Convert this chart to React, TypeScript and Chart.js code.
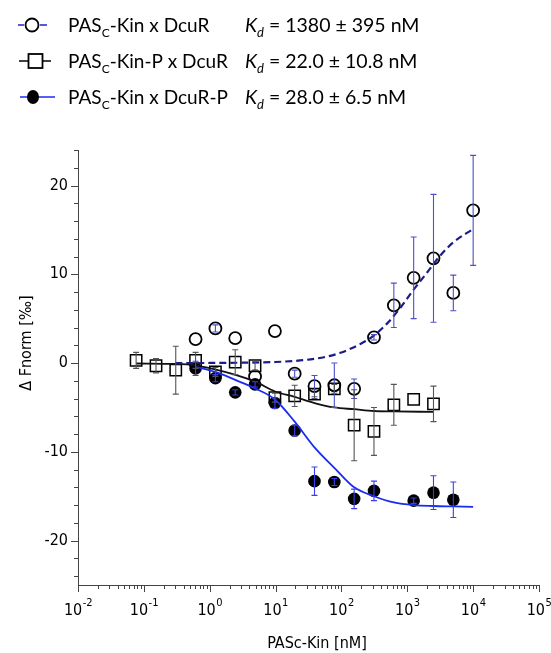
import React, { useEffect, useRef } from "react";
import { Chart, registerables } from "chart.js";
Chart.register(...registerables);

// ---- data ----
// PASc-Kin x DcuR (open circles)
const openX = [0.61, 1.22, 2.44, 4.88, 9.77, 19.5, 39, 78, 156, 312, 625, 1250, 2500, 5000, 10000];
const openY = [2.7, 3.9, 2.8, -1.5, 3.6, -1.2, -2.6, -2.5, -2.9, 2.9, 6.5, 9.6, 11.8, 7.9, 17.2];
const openErr = [0, 0.4, 0, 0, 0, 0.4, 1.2, 2.5, 1.1, 0.3, 2.5, 4.6, 7.2, 2.0, 6.2];

// PASc-Kin-P x DcuR (open squares)
const sqX = [0.0763, 0.153, 0.305, 0.61, 1.22, 2.44, 4.88, 9.77, 19.5, 39, 78, 156, 312, 625, 1250, 2500];
const sqY = [0.3, -0.3, -0.8, 0.3, -1.0, 0.1, -0.3, -3.9, -3.7, -3.5, -2.9, -7.0, -7.7, -4.7, -4.1, -4.6];
const sqErr = [0.9, 0.8, 2.7, 0.9, 0.5, 1.4, 0.5, 0.5, 1.2, 0.5, 0.5, 4.0, 2.7, 2.3, 0, 2.0];

// PASc-Kin x DcuR-P (filled circles)
const fillX = [0.61, 1.22, 2.44, 4.88, 9.77, 19.5, 39, 78, 156, 312, 1250, 2500, 5000];
const fillY = [-0.6, -1.7, -3.3, -2.4, -4.5, -7.6, -13.3, -13.4, -15.3, -14.4, -15.5, -14.6, -15.4];
const fillErr = [0.8, 0.4, 0.3, 0.3, 0.6, 0.6, 1.6, 0.4, 1.1, 1.1, 0.3, 1.9, 2.0];

// fitted curves
const fitOpenX = [0.3, 1, 3, 10, 30, 60, 100, 200, 300, 500, 800, 1200, 2000, 3000, 5000, 10000];
const fitOpenY = [0, 0.01, 0.04, 0.12, 0.37, 0.73, 1.2, 2.2, 3.0, 4.5, 6.3, 8.1, 10.2, 11.9, 13.6, 15.1];
const fitSqX = [0.0763, 0.3, 0.6, 1.2, 2.4, 4.9, 9.8, 19.5, 39, 78, 156, 312, 625, 2500];
const fitSqY = [-0.05, -0.1, -0.25, -0.7, -1.3, -2.1, -3.2, -3.8, -4.5, -5.0, -5.2, -5.4, -5.45, -5.5];
const fitFillX = [0.61, 1.22, 2.44, 4.88, 9.77, 19.5, 39, 78, 156, 312, 625, 1250, 2500, 5000, 10000];
const fitFillY = [-0.4, -1.0, -1.9, -2.85, -4.1, -6.6, -9.5, -11.8, -14.0, -15.0, -15.7, -16.0, -16.1, -16.15, -16.2];

const yMajor = [-20, -10, 0, 10, 20];
const xExponents = [-2, -1, 0, 1, 2, 3, 4, 5];

const pts = (xs: number[], ys: number[]) => xs.map((x, i) => ({ x, y: ys[i] }));

const TICK_FONT = '"DejaVu Sans Condensed", "Liberation Sans", sans-serif';
const LEG_FONT = 'Lato, "Open Sans", sans-serif';

type Seg = { t: string; italic?: boolean; sub?: boolean };
function drawRich(ctx: CanvasRenderingContext2D, x: number, y: number, segs: Seg[], size: number) {
  let cx = x;
  for (const s of segs) {
    const fs = s.sub ? Math.round(size * 0.65) : size;
    ctx.font = `${s.italic ? "italic " : ""}${fs}px ${LEG_FONT}`;
    ctx.fillText(s.t, cx, s.sub ? y + 5 : y);
    cx += ctx.measureText(s.t).width;
  }
}

const decorPlugin = {
  id: "decor",
  afterDatasetsDraw(chart: any) {
    // error bars
    const ctx = chart.ctx as CanvasRenderingContext2D;
    const xs = chart.scales.x, ys = chart.scales.y;
    chart.data.datasets.forEach((ds: any) => {
      if (!ds.errors) return;
      ctx.save();
      ctx.strokeStyle = ds.errColor;
      ctx.lineWidth = 1.1;
      ds.data.forEach((p: any, i: number) => {
        const e = ds.errors[i];
        if (!e) return;
        const px = xs.getPixelForValue(p.x);
        const y1 = ys.getPixelForValue(p.y + e);
        const y2 = ys.getPixelForValue(p.y - e);
        ctx.beginPath();
        ctx.moveTo(px, y1); ctx.lineTo(px, y2);
        ctx.moveTo(px - 3, y1); ctx.lineTo(px + 3, y1);
        ctx.moveTo(px - 3, y2); ctx.lineTo(px + 3, y2);
        ctx.stroke();
      });
      ctx.restore();
    });
  },
  afterDraw(chart: any) {
    const ctx = chart.ctx as CanvasRenderingContext2D;
    const xs = chart.scales.x, ys = chart.scales.y;
    const { left, bottom } = chart.chartArea;
    ctx.save();
    ctx.strokeStyle = "#444";
    ctx.lineWidth = 1;
    // y ticks
    for (let v = -24; v <= 24; v += 2) {
      const py = Math.round(ys.getPixelForValue(v)) + 0.5;
      const len = v % 10 === 0 ? 7 : 4;
      ctx.beginPath(); ctx.moveTo(left - len, py); ctx.lineTo(left, py); ctx.stroke();
    }
    ctx.fillStyle = "#000";
    ctx.font = `16px ${TICK_FONT}`;
    ctx.textAlign = "right";
    ctx.textBaseline = "middle";
    yMajor.forEach((v) => ctx.fillText(String(v), left - 10, ys.getPixelForValue(v)));
    // x ticks
    xExponents.forEach((k) => {
      const base = Math.pow(10, k);
      const px = Math.round(xs.getPixelForValue(base)) + 0.5;
      ctx.beginPath(); ctx.moveTo(px, bottom); ctx.lineTo(px, bottom + 7); ctx.stroke();
      if (k < 5) {
        for (let m = 2; m <= 9; m++) {
          const mx = Math.round(xs.getPixelForValue(m * base)) + 0.5;
          ctx.beginPath(); ctx.moveTo(mx, bottom); ctx.lineTo(mx, bottom + 4); ctx.stroke();
        }
      }
      // label 10^k
      ctx.textAlign = "left";
      ctx.textBaseline = "alphabetic";
      ctx.font = `16px ${TICK_FONT}`;
      const w1 = ctx.measureText("10").width;
      const exp = k < 0 ? "-" + Math.abs(k) : String(k);
      ctx.font = `11px ${TICK_FONT}`;
      const w2 = ctx.measureText(exp).width;
      const sx = xs.getPixelForValue(base) - (w1 + w2) / 2;
      ctx.font = `16px ${TICK_FONT}`;
      ctx.fillText("10", sx, bottom + 30);
      ctx.font = `11px ${TICK_FONT}`;
      ctx.fillText(exp, sx + w1 + 0.5, bottom + 21);
    });
    // axis titles
    ctx.font = `16px ${TICK_FONT}`;
    ctx.textAlign = "center";
    ctx.textBaseline = "middle";
    ctx.fillText("PASc-Kin [nM]", 317, 644);
    ctx.save();
    ctx.translate(27, 343);
    ctx.rotate(-Math.PI / 2);
    ctx.fillText("\u0394 Fnorm [\u2030]", 0, 0);
    ctx.restore();

    // legend
    ctx.textAlign = "left";
    ctx.textBaseline = "alphabetic";
    // row 1
    ctx.strokeStyle = "#2222cc"; ctx.lineWidth = 1.5;
    ctx.beginPath(); ctx.moveTo(18, 25); ctx.lineTo(24, 25); ctx.moveTo(40, 25); ctx.lineTo(47, 25); ctx.stroke();
    ctx.strokeStyle = "#000"; ctx.lineWidth = 1.8;
    ctx.beginPath(); ctx.arc(32, 25, 6.5, 0, Math.PI * 2); ctx.stroke();
    // row 2
    ctx.lineWidth = 1.5;
    ctx.beginPath(); ctx.moveTo(19, 61); ctx.lineTo(51, 61); ctx.stroke();
    ctx.fillStyle = "#fff"; ctx.fillRect(28.5, 54, 14, 14);
    ctx.lineWidth = 1.8; ctx.strokeRect(28.5, 54, 14, 14);
    // row 3
    ctx.strokeStyle = "#1a2cf0"; ctx.lineWidth = 1.5;
    ctx.beginPath(); ctx.moveTo(20, 97); ctx.lineTo(55, 97); ctx.stroke();
    ctx.fillStyle = "#000";
    ctx.beginPath(); ctx.ellipse(33, 97, 6, 7, 0, 0, Math.PI * 2); ctx.fill();

    ctx.fillStyle = "#000";
    const S = 19;
    drawRich(ctx, 68, 32, [{ t: "PAS" }, { t: "C", sub: true }, { t: "-Kin x DcuR" }], S);
    drawRich(ctx, 68, 68, [{ t: "PAS" }, { t: "C", sub: true }, { t: "-Kin-P x DcuR" }], S);
    drawRich(ctx, 68, 104, [{ t: "PAS" }, { t: "C", sub: true }, { t: "-Kin x DcuR-P" }], S);
    drawRich(ctx, 245, 32, [{ t: "K", italic: true }, { t: "d", italic: true, sub: true }, { t: " = 1380 \u00b1 395 nM" }], S + 0.5);
    drawRich(ctx, 245, 68, [{ t: "K", italic: true }, { t: "d", italic: true, sub: true }, { t: " = 22.0 \u00b1 10.8 nM" }], S + 0.5);
    drawRich(ctx, 245, 104, [{ t: "K", italic: true }, { t: "d", italic: true, sub: true }, { t: " = 28.0 \u00b1 6.5 nM" }], S + 0.5);
    ctx.restore();
  },
};

export default function App() {
  const ref = useRef<HTMLCanvasElement>(null);
  useEffect(() => {
    document.body.style.margin = "0";
    const canvas = ref.current!;
    const chart = new Chart(canvas, {
      type: "scatter",
      data: {
        datasets: [
          {
            label: "fit open",
            type: "line",
            data: pts(fitOpenX, fitOpenY),
            borderColor: "#1b1b8f",
            borderWidth: 2.2,
            borderDash: [7, 4],
            pointRadius: 0,
            cubicInterpolationMode: "monotone",
            fill: false,
          } as any,
          {
            label: "fit sq",
            type: "line",
            data: pts(fitSqX, fitSqY),
            borderColor: "#111",
            borderWidth: 1.8,
            pointRadius: 0,
            cubicInterpolationMode: "monotone",
            fill: false,
          } as any,
          {
            label: "fit fill",
            type: "line",
            data: pts(fitFillX, fitFillY),
            borderColor: "#1a2cf0",
            borderWidth: 1.8,
            pointRadius: 0,
            cubicInterpolationMode: "monotone",
            fill: false,
          } as any,
          {
            label: "PASc-Kin x DcuR",
            data: pts(openX, openY),
            pointStyle: "circle",
            pointRadius: 6,
            pointBorderWidth: 1.8,
            borderColor: "#000",
            backgroundColor: "rgba(0,0,0,0)",
            errors: openErr,
            errColor: "#4f4fc8",
          } as any,
          {
            label: "PASc-Kin-P x DcuR",
            data: pts(sqX, sqY),
            pointStyle: "rect",
            pointRadius: 8,
            pointBorderWidth: 1.5,
            borderColor: "#000",
            backgroundColor: "rgba(0,0,0,0)",
            errors: sqErr,
            errColor: "#555",
          } as any,
          {
            label: "PASc-Kin x DcuR-P",
            data: pts(fillX, fillY),
            pointStyle: "circle",
            pointRadius: 6.3,
            pointBorderWidth: 0,
            borderColor: "#000",
            backgroundColor: "#000",
            errors: fillErr,
            errColor: "#3d3df0",
          } as any,
        ],
      },
      options: {
        responsive: false,
        animation: false,
        devicePixelRatio: 1,
        layout: { padding: { top: 150, right: 12, left: 0, bottom: 0 } },
        plugins: { legend: { display: false }, tooltip: { enabled: false } },
        scales: {
          x: {
            type: "logarithmic",
            min: 0.01,
            max: 100000,
            grid: { display: false },
            ticks: { display: false },
            border: { display: true, color: "#444", width: 1 },
            afterFit: (s: any) => { s.height = 68; },
          },
          y: {
            type: "linear",
            min: -25,
            max: 24,
            grid: { display: false },
            ticks: { display: false },
            border: { display: true, color: "#444", width: 1 },
            afterFit: (s: any) => { s.width = 78; },
          },
        },
      },
      plugins: [decorPlugin],
    });
    return () => chart.destroy();
  }, []);
  return (
    <div style={{ width: 551, height: 653 }}>
      <canvas ref={ref} width={551} height={653} style={{ display: "block" }} />
    </div>
  );
}
